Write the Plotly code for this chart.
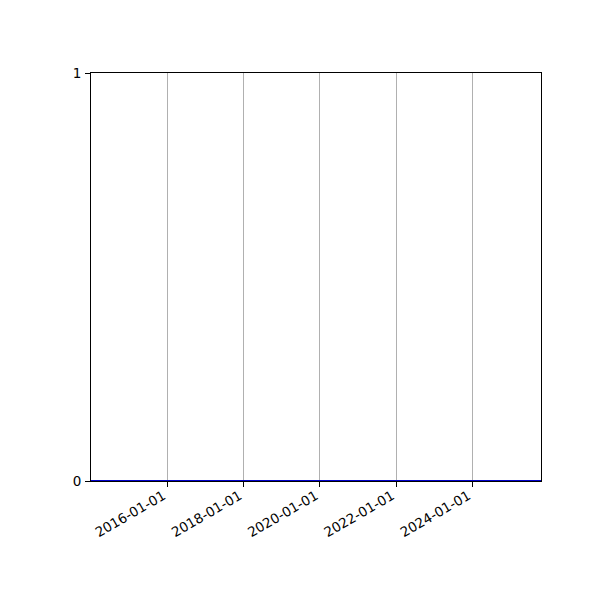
import plotly.graph_objects as go

# series sampled at the start of each year, all values read as zero
dates = ["2014-01-01", "2015-01-01", "2016-01-01", "2017-01-01", "2018-01-01",
         "2019-01-01", "2020-01-01", "2021-01-01", "2022-01-01", "2023-01-01",
         "2024-01-01", "2025-01-01", "2025-10-20"]
values = [0, 0, 0, 0, 0, 0, 0, 0, 0, 0, 0, 0, 0]

tick_dates = ["2016-01-01", "2018-01-01", "2020-01-01", "2022-01-01", "2024-01-01"]
y_ticks = [0, 1]

fig = go.Figure()
fig.add_trace(go.Scatter(x=dates, y=values, mode="lines",
                         line=dict(color="#0000cc", width=2), cliponaxis=False))

# page body adds an 8px offset, so margins are shifted to compensate
fig.update_layout(
    width=600, height=600,
    margin=dict(l=83, r=67, t=65, b=127),
    plot_bgcolor="white", paper_bgcolor="white",
    showlegend=False,
    font=dict(family="DejaVu Sans", size=13.5, color="black"),
)
fig.update_xaxes(
    type="date", range=["2014-01-01", "2025-10-20"],
    tickvals=tick_dates, ticktext=tick_dates, tickangle=-30,
    ticks="outside", ticklen=5, tickcolor="black",
    ticklabelstandoff=-4, ticklabelshift=-4,
    showline=True, linecolor="black", linewidth=1, mirror=True,
    showgrid=True, gridcolor="#b0b0b0", gridwidth=0.8, zeroline=False,
    layer="below traces",
)
fig.update_yaxes(
    range=[0, 1], tickvals=y_ticks, ticktext=["0", "1"],
    ticks="outside", ticklen=5, tickcolor="black", ticklabelstandoff=1,
    showline=True, linecolor="black", linewidth=1, mirror=True,
    showgrid=False, zeroline=False, layer="below traces",
)

fig.write_html("out.html")
